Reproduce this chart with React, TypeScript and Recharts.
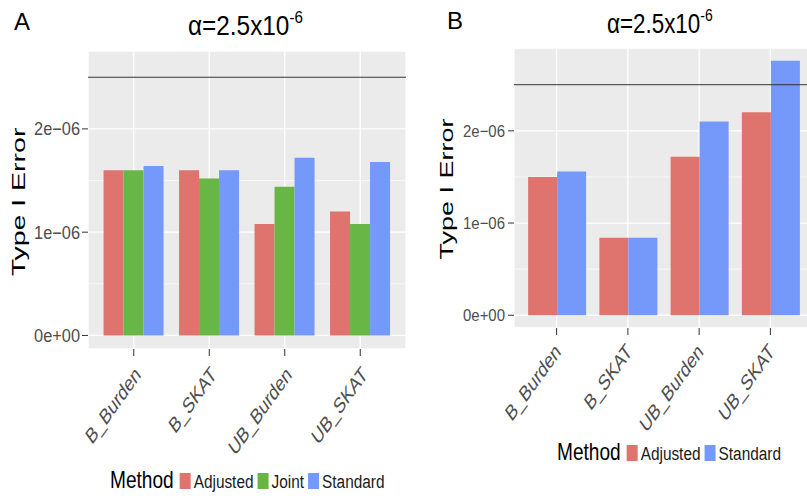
import React from 'react';
import { BarChart, Bar, XAxis, YAxis, CartesianGrid, ReferenceLine } from 'recharts';

const categories = ['B_Burden', 'B_SKAT', 'UB_Burden', 'UB_SKAT'];

// panel A
const adjustedA = [1.6e-6, 1.6e-6, 1.08e-6, 1.2e-6];
const jointA = [1.6e-6, 1.52e-6, 1.44e-6, 1.08e-6];
const standardA = [1.64e-6, 1.6e-6, 1.72e-6, 1.68e-6];

// panel B
const adjustedB = [1.5e-6, 0.84e-6, 1.72e-6, 2.2e-6];
const standardB = [1.56e-6, 0.84e-6, 2.1e-6, 2.76e-6];

const majorTicks = [0, 1e-6, 2e-6];
const minorTicks = [0.5e-6, 1.5e-6, 2.5e-6];
const alphaLevel = 2.5e-6;
const domainA = [-0.131e-6, 2.754e-6];
const domainB = [-0.138e-6, 2.898e-6];

const methodsA = ['Adjusted', 'Joint', 'Standard'];
const methodsB = ['Adjusted', 'Standard'];
const colors: Record<string, string> = {
  Adjusted: '#DE746D',
  Joint: '#68B646',
  Standard: '#7499FA',
};

const FONT = '"Liberation Sans", Arial, Helvetica, sans-serif';

const rowsA = categories.map((name, i) => ({
  name,
  Adjusted: adjustedA[i],
  Joint: jointA[i],
  Standard: standardA[i],
}));
const rowsB = categories.map((name, i) => ({
  name,
  Adjusted: adjustedB[i],
  Standard: standardB[i],
}));

function sci(v: number) {
  if (v === 0) return '0e+00';
  const [m, e] = v.toExponential(0).split('e');
  const n = parseInt(e, 10);
  const sign = n < 0 ? '\u2212' : '+';
  return `${m}e${sign}${String(Math.abs(n)).padStart(2, '0')}`;
}

let ctx: CanvasRenderingContext2D | null = null;
function textWidth(s: string, size: number) {
  if (!ctx) ctx = document.createElement('canvas').getContext('2d');
  if (!ctx) return s.length * size * 0.55;
  ctx.font = `${size}px "Liberation Sans", Arial, sans-serif`;
  return ctx.measureText(s).width;
}

const makeYTick = (size: number, sx: number) => (props: any) => {
  const { x, y, payload } = props;
  return (
    <text
      transform={`translate(${x},${y}) scale(${sx},1)`}
      textAnchor="end"
      dy="0.36em"
      fontSize={size}
      fill="#4D4D4D"
      fontFamily={FONT}
    >
      {sci(payload.value)}
    </text>
  );
};

const makeXTick = (dx: number, dy: number) => (props: any) => {
  const { x, y, payload } = props;
  return (
    <text
      transform={`translate(${x + dx},${y + dy}) scale(0.72,1) rotate(-45)`}
      textAnchor="end"
      fontSize={22}
      fill="#4D4D4D"
      fontFamily={FONT}
    >
      {payload.value}
    </text>
  );
};

function Legend({ x, y, items }: { x: number; y: number; items: string[] }) {
  const titleSize = 23;
  const titleSx = 0.83;
  const labelSize = 19;
  const labelSx = 0.81;
  let cx = x + textWidth('Method', titleSize) * titleSx + 6;
  const parts = items.map((m) => {
    const key = cx;
    const tx = key + 11 + 3;
    cx = tx + textWidth(m, labelSize) * labelSx + 4;
    return { m, key, tx };
  });
  return (
    <g fontFamily={FONT}>
      <text transform={`translate(${x},${y}) scale(${titleSx},1)`} fontSize={titleSize} fill="#000">
        Method
      </text>
      {parts.map((p) => (
        <g key={p.m}>
          <rect x={p.key} y={y - 15} width={11} height={16} fill={colors[p.m]} />
          <text transform={`translate(${p.tx},${y}) scale(${labelSx},1)`} fontSize={labelSize} fill="#1a1a1a">
            {p.m}
          </text>
        </g>
      ))}
    </g>
  );
}

function Title({ x, y, size, sx }: { x: number; y: number; size: number; sx: number }) {
  return (
    <text transform={`translate(${x},${y}) scale(${sx},1)`} fontSize={size} fill="#000" fontFamily={FONT}>
      <tspan>α=2.5x10</tspan>
      <tspan dy={-12} fontSize={size * 0.62}>-6</tspan>
    </text>
  );
}

function YLabel({ x, y, size, sx }: { x: number; y: number; size: number; sx: number }) {
  return (
    <text
      transform={`translate(${x},${y}) scale(${sx},1) rotate(-90)`}
      textAnchor="middle"
      fontSize={size}
      fill="#000"
      fontFamily={FONT}
    >
      Type I Error
    </text>
  );
}

function Panel({
  rows,
  methods,
  domain,
  width,
  margin,
  yTick,
  xTick,
  tickMargin,
  pad,
}: any) {
  return (
    <BarChart
      width={width}
      height={499}
      data={rows}
      margin={margin}
      barCategoryGap="10%"
      barGap={0}
    >
      <CartesianGrid fill="#EBEBEB" fillOpacity={1} stroke="#FFFFFF" strokeWidth={1.3} />
      <CartesianGrid yAxisId="minor" vertical={false} stroke="#FFFFFF" strokeWidth={0.6} />
      <XAxis
        dataKey="name"
        interval={0}
        axisLine={false}
        tickLine={{ stroke: '#333333' }}
        tickSize={7}
        tickMargin={0}
        height={100}
        padding={{ left: pad, right: pad }}
        tick={xTick}
      />
      <YAxis
        type="number"
        domain={domain}
        ticks={majorTicks}
        allowDataOverflow
        axisLine={false}
        tickLine={{ stroke: '#333333' }}
        tickSize={6}
        tickMargin={tickMargin}
        width={60}
        tick={yTick}
      />
      <YAxis yAxisId="minor" type="number" domain={domain} ticks={minorTicks} allowDataOverflow hide />
      {methods.map((m: string) => (
        <Bar key={m} dataKey={m} fill={colors[m]} isAnimationActive={false} />
      ))}
      <ReferenceLine y={alphaLevel} stroke="#333333" strokeWidth={1} />
    </BarChart>
  );
}

export default function App() {
  return (
    <div
      style={{
        position: 'fixed',
        left: 0,
        top: 0,
        width: 807,
        height: 499,
        overflow: 'hidden',
        background: '#fff',
      }}
    >
      <div style={{ position: 'absolute', left: 0, top: 0 }}>
        <Panel
          rows={rowsA}
          methods={methodsA}
          domain={domainA}
          width={420}
          margin={{ top: 51, right: 14, bottom: 50, left: 28 }}
          yTick={makeYTick(18, 0.91)}
          xTick={makeXTick(8, 20)}
          tickMargin={2}
          pad={8}
        />
      </div>
      <div style={{ position: 'absolute', left: 420, top: 0 }}>
        <Panel
          rows={rowsB}
          methods={methodsB}
          domain={domainB}
          width={400}
          margin={{ top: 48, right: 7, bottom: 71, left: 34 }}
          yTick={makeYTick(17, 0.88)}
          xTick={makeXTick(5, 18)}
          tickMargin={3}
          pad={7}
        />
      </div>
      <svg
        width={807}
        height={499}
        style={{ position: 'absolute', left: 0, top: 0, pointerEvents: 'none' }}
      >
        <text x={14} y={30} fontSize={24} fontFamily={FONT} fill="#000">A</text>
        <text x={447} y={29} fontSize={24} fontFamily={FONT} fill="#000">B</text>
        <Title x={188} y={35} size={28} sx={0.87} />
        <Title x={607} y={33} size={27} sx={0.83} />
        <YLabel x={25} y={202} size={28.5} sx={0.65} />
        <YLabel x={453} y={189} size={27} sx={0.66} />
        <Legend x={110} y={488} items={methodsA} />
        <Legend x={557} y={460} items={methodsB} />
      </svg>
    </div>
  );
}
